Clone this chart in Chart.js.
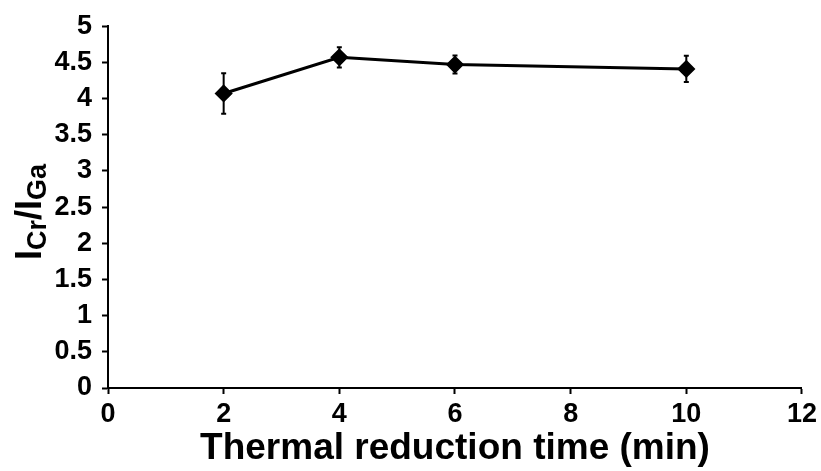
<!DOCTYPE html>
<html>
<head>
<meta charset="utf-8">
<script src="https://cdn.jsdelivr.net/npm/chart.js@4/dist/chart.umd.min.js"></script>
<style>
  html, body { margin: 0; padding: 0; background: #fff; }
  #wrap { width: 821px; height: 471px; position: relative; }
</style>
</head>
<body>
<div id="wrap"><canvas id="c" width="821" height="471"></canvas></div>
<script>
// Data
const times = [2, 4, 6, 10];                 // Thermal reduction time (min)
const ratio = [4.07, 4.57, 4.47, 4.41];      // I_Cr / I_Ga
const ratioErr = [0.28, 0.14, 0.125, 0.18];  // error bar half-lengths
const xTitle = 'Thermal reduction time (min)';
const yTitleParts = [['I', false], ['Cr', true], ['/I', false], ['Ga', true]];

const FONT = '"Liberation Sans", Arial, sans-serif';

const errorBars = {
  id: 'errorBars',
  afterDatasetsDraw(chart) {
    const ctx = chart.ctx;
    const xs = chart.scales.x, ys = chart.scales.y;
    ctx.save();
    ctx.strokeStyle = '#000';
    ctx.lineWidth = 2;
    times.forEach((t, i) => {
      const px = xs.getPixelForValue(t);
      const top = ys.getPixelForValue(ratio[i] + ratioErr[i]);
      const bot = ys.getPixelForValue(ratio[i] - ratioErr[i]);
      ctx.beginPath();
      ctx.moveTo(px, top); ctx.lineTo(px, bot);
      ctx.moveTo(px - 2.5, top); ctx.lineTo(px + 2.5, top);
      ctx.moveTo(px - 2.5, bot); ctx.lineTo(px + 2.5, bot);
      ctx.stroke();
    });
    ctx.restore();
  }
};

const yTitle = {
  id: 'yTitle',
  afterDraw(chart) {
    const ctx = chart.ctx;
    const big = 'bold 36px ' + FONT;
    const small = 'bold 27px ' + FONT;
    ctx.save();
    let total = 0;
    yTitleParts.forEach(([s, sub]) => { ctx.font = sub ? small : big; total += ctx.measureText(s).width; });
    const cx = 41, cy = 212;
    ctx.translate(cx, cy);
    ctx.rotate(-Math.PI / 2);
    ctx.fillStyle = '#000';
    ctx.textBaseline = 'alphabetic';
    let x = -total / 2;
    yTitleParts.forEach(([s, sub]) => {
      ctx.font = sub ? small : big;
      ctx.fillText(s, x, sub ? 5 : 0);
      x += ctx.measureText(s).width;
    });
    ctx.restore();
  }
};

new Chart(document.getElementById('c'), {
  type: 'line',
  data: {
    datasets: [{
      data: times.map((t, i) => ({ x: t, y: ratio[i] })),
      borderColor: '#000',
      backgroundColor: '#000',
      borderWidth: 3,
      pointStyle: 'rectRot',
      pointRadius: 7,
      pointHoverRadius: 7,
      pointBackgroundColor: '#000',
      pointBorderColor: '#000',
      tension: 0
    }]
  },
  options: {
    responsive: false,
    animation: false,
    events: [],
    layout: { padding: { top: 24, right: 17, left: 0, bottom: 0 } },
    plugins: { legend: { display: false }, tooltip: { enabled: false } },
    scales: {
      x: {
        type: 'linear',
        min: 0, max: 12,
        ticks: { stepSize: 2, color: '#000', font: { family: FONT, size: 27, weight: 'bold' }, padding: 4, maxRotation: 0 },
        grid: { drawOnChartArea: false, drawTicks: true, tickLength: 6, tickColor: '#000', tickWidth: 2 },
        border: { color: '#000', width: 2 },
        title: { display: true, text: xTitle, color: '#000', font: { family: FONT, size: 37, weight: 'bold' }, padding: { top: -6, bottom: 0 } },
        afterFit(s) { s.height = 83; }
      },
      y: {
        min: 0, max: 5,
        ticks: {
          stepSize: 0.5, color: '#000', font: { family: FONT, size: 27, weight: 'bold' }, padding: 10,
          callback: (v) => String(Math.round(v * 10) / 10)
        },
        grid: { drawOnChartArea: false, drawTicks: true, tickLength: 6, tickColor: '#000', tickWidth: 2 },
        border: { color: '#000', width: 2 },
        afterFit(s) { s.width = 108; }
      }
    }
  },
  plugins: [errorBars, yTitle]
});
</script>
</body>
</html>
